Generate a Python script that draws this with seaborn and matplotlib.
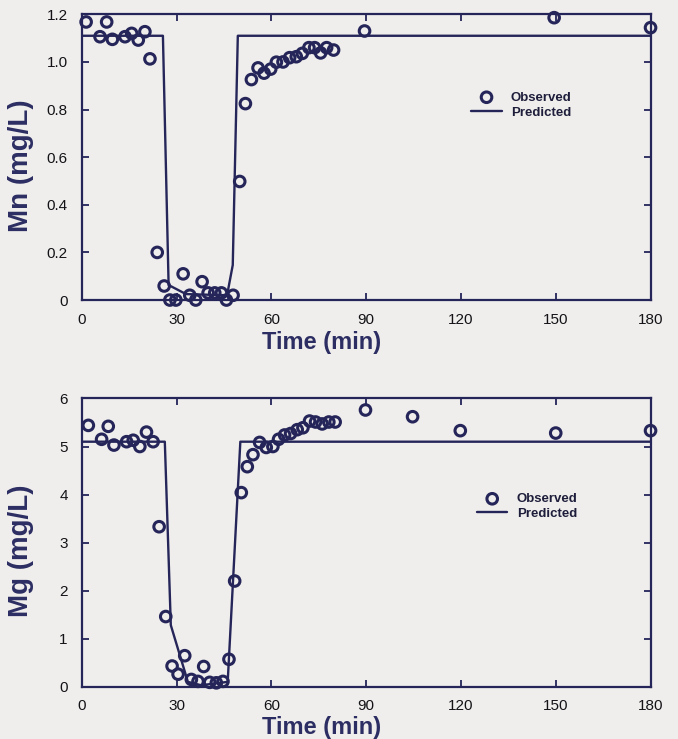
import numpy as np
import pandas as pd
import matplotlib
matplotlib.use("Agg")
import matplotlib.pyplot as plt
import seaborn as sns

# Mn data (mg/L)
mn_time = [1.4, 5.8, 7.9, 9.7, 13.7, 15.8, 17.9, 20.0, 21.6, 23.9, 26.1, 27.9, 29.8,
           32.1, 34.2, 36.1, 38.1, 40.0, 42.1, 44.2, 45.8, 47.9, 50.0, 51.8, 53.7,
           55.8, 57.7, 59.8, 61.6, 63.7, 65.8, 67.9, 69.8, 71.9, 73.7, 75.6, 77.5,
           79.7, 89.5, 149.5, 180.0]
mn_obs = [1.168, 1.106, 1.168, 1.095, 1.106, 1.12, 1.092, 1.127, 1.013, 0.2, 0.059,
          0.0, 0.0, 0.11, 0.02, 0.0, 0.077, 0.03, 0.03, 0.03, 0.0, 0.02, 0.498,
          0.825, 0.926, 0.975, 0.953, 0.97, 0.999, 1.0, 1.018, 1.022, 1.036, 1.06,
          1.06, 1.038, 1.06, 1.05, 1.13, 1.186, 1.144]
mn_pred_time = [0, 25.7, 27.5, 33.0, 46.0, 47.8, 49.4, 180]
mn_pred = [1.11, 1.11, 0.063, 0.025, 0.02, 0.147, 1.11, 1.11]

# Mg data (mg/L)
mg_time = [2.1, 6.3, 8.4, 10.2, 14.2, 16.3, 18.4, 20.5, 22.6, 24.5, 26.6, 28.6, 30.5,
           32.6, 34.7, 36.8, 38.6, 40.5, 42.6, 44.7, 46.6, 48.4, 50.5, 52.4, 54.2,
           56.3, 58.4, 60.5, 62.3, 64.2, 66.1, 68.2, 70.0, 72.1, 74.0, 76.1, 78.2,
           80.2, 89.8, 104.7, 119.8, 150.0, 180.0]
mg_obs = [5.44, 5.15, 5.42, 5.03, 5.1, 5.13, 5.0, 5.3, 5.1, 3.33, 1.46, 0.43, 0.26,
          0.645, 0.15, 0.11, 0.42, 0.09, 0.08, 0.11, 0.57, 2.2, 4.04, 4.58, 4.83,
          5.085, 4.98, 5.0, 5.15, 5.24, 5.27, 5.35, 5.39, 5.53, 5.51, 5.47, 5.51,
          5.51, 5.76, 5.62, 5.33, 5.28, 5.33]
mg_pred_time = [0, 26.3, 28.2, 33.6, 37.8, 46.2, 50.2, 180]
mg_pred = [5.1, 5.1, 1.28, 0.1, 0.03, 0.1, 5.1, 5.1]

x_ticks = [0, 30, 60, 90, 120, 150, 180]
mn_ticks = [0, 0.2, 0.4, 0.6, 0.8, 1.0, 1.2]
mn_tick_labels = ["0", "0.2", "0.4", "0.6", "0.8", "1.0", "1.2"]
mg_ticks = [0, 1, 2, 3, 4, 5, 6]

navy = "#25255a"
label_col = "#2c2d62"
bg = "#efeeec"

sns.set_theme(style="ticks")
plt.rcParams["font.family"] = ["Liberation Sans", "DejaVu Sans"]

fig = plt.figure(figsize=(6.78, 7.39), dpi=100, facecolor=bg)
ax1 = fig.add_axes([0.1205, 0.594, 0.839, 0.3866])
ax2 = fig.add_axes([0.1205, 0.0708, 0.839, 0.390])

panels = [
    (ax1, mn_time, mn_obs, mn_pred_time, mn_pred, (0, 1.2), mn_ticks, mn_tick_labels,
     "Mn (mg/L)", (0.685, 0.73), -0.108),
    (ax2, mg_time, mg_obs, mg_pred_time, mg_pred, (0, 6), mg_ticks,
     [str(t) for t in mg_ticks], "Mg (mg/L)", (0.695, 0.672), -0.102),
]

for ax, t, obs, pt, pred, ylim, yt, ytl, ylab, leg_pos, xlab_y in panels:
    ax.set_facecolor(bg)
    obs_df = pd.DataFrame({"Time": t, "Conc": obs})
    pred_df = pd.DataFrame({"Time": pt, "Conc": pred})
    sns.scatterplot(data=obs_df, x="Time", y="Conc", ax=ax, marker="o", s=58,
                    facecolor="none", edgecolor=navy, linewidth=2.2,
                    clip_on=False, zorder=3, label="Observed")
    sns.lineplot(data=pred_df, x="Time", y="Conc", ax=ax, color=navy, linewidth=1.7,
                 sort=False, estimator=None, label="Predicted", zorder=2)
    ax.set_xlim(0, 180)
    ax.set_ylim(*ylim)
    ax.set_xticks(x_ticks)
    ax.set_xticklabels([str(v) for v in x_ticks])
    ax.set_yticks(yt)
    ax.set_yticklabels(ytl)
    ax.tick_params(direction="in", top=True, right=True, length=5, width=1.3,
                   color=navy, labelsize=11, labelcolor="#141418")
    ax.tick_params(axis="x", pad=9)
    ax.tick_params(axis="y", pad=10)
    for sp in ax.spines.values():
        sp.set_visible(True)
        sp.set_color(navy)
        sp.set_linewidth(1.6)
    ax.set_xlabel("Time (min)", fontsize=17, fontweight="bold", color=label_col)
    ax.xaxis.set_label_coords(0.422, xlab_y)
    ax.xaxis.label.set_va("top")
    ax.set_ylabel(ylab, fontsize=20, fontweight="bold", color=label_col)
    ax.yaxis.set_label_coords(-0.083, 0.47)
    handles, labels = ax.get_legend_handles_labels()
    leg = ax.legend(handles[:2], labels[:2], loc="upper left", bbox_to_anchor=leg_pos,
                    frameon=False, prop={"size": 9.5, "weight": "bold"},
                    handlelength=2.3, handletextpad=0.7, labelspacing=0.2,
                    borderpad=0, borderaxespad=0, scatterpoints=1)
    for txt in leg.get_texts():
        txt.set_color("#1e1e3c")

fig.savefig("out.png", dpi=100, facecolor=bg)
